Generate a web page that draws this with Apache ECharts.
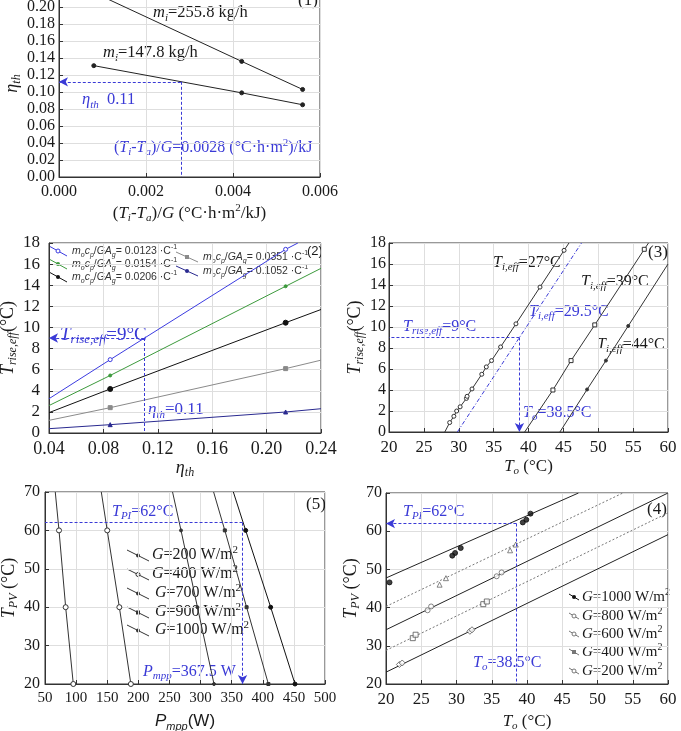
<!DOCTYPE html>
<html>
<head>
<meta charset="utf-8">
<script src="https://cdn.jsdelivr.net/npm/echarts@6/dist/echarts.min.js"></script>
<style>
html, body { margin: 0; padding: 0; background: #fff; }
#main { width: 681px; height: 731px; }
</style>
</head>
<body>
<div id="main"></div>
<script>
// panel (1): efficiency vs reduced temperature
var p1Heavy = [[0.0008, 0.217], [0.0042, 0.136], [0.0056, 0.103]];
var p1Light = [[0.0008, 0.131], [0.0042, 0.099], [0.0056, 0.085]];

// panel (2): temperature rise vs efficiency, one line per m_o c_p / G A_g
var p2Blue = [[0.04, 3.25], [0.085, 6.95], [0.214, 17.4], [0.223, 18]];
var p2Green = [[0.04, 2.6], [0.085, 5.45], [0.214, 13.9], [0.24, 15.6]];
var p2Black = [[0.04, 1.93], [0.085, 4.17], [0.214, 10.45], [0.24, 11.7]];
var p2Gray = [[0.04, 1.2], [0.085, 2.4], [0.214, 6.1], [0.24, 6.9]];
var p2Navy = [[0.04, 0.41], [0.085, 0.79], [0.214, 1.99], [0.24, 2.3]];
var p2Legend = ['0.0123', '0.0154', '0.0206', '0.0351', '0.1052'];

// panel (3): temperature rise vs outlet temperature
var p3T27 = [[28.0, 0], [28.7, 0.9], [29.3, 1.5], [29.7, 2.0], [30.2, 2.4], [31.1, 3.2], [31.2, 3.4],
  [31.9, 4.1], [33.3, 5.5], [33.95, 6.2], [34.7, 6.8], [36.0, 8.1], [38.2, 10.3], [41.65, 13.8],
  [45.1, 17.3], [45.8, 18]];
var p3T295 = [[29.8, 0], [47.6, 18]];
var p3T39 = [[39.45, 0], [43.5, 4.0], [46.1, 6.8], [49.5, 10.2], [56.6, 17.4], [57.2, 18]];
var p3T44 = [[44.5, 0], [48.4, 4.05], [51.1, 6.8], [54.3, 10.1], [60, 16.0]];

// panel (5): PV temperature vs max power
var p5G200 = [[66.5, 70], [72.5, 60], [83.2, 40], [95.5, 20]];
var p5G400 = [[140.5, 70], [150, 60], [169.5, 40], [188, 20]];
var p5G700 = [[255, 70], [268.6, 60], [295, 40], [321.6, 20]];
var p5G900 = [[321, 70], [339, 60], [374, 40], [409, 20]];
var p5G1000 = [[352.7, 70], [372.5, 60], [412.7, 40], [451.8, 20]];
var p5Legend = ['200', '400', '700', '900', '1000'];

// panel (4): PV temperature vs outlet temperature (fit lines + measured points)
var p4G1000Line = [[20, 47.75], [47.3, 70]];
var p4G1000Pts = [[20.5, 46.6], [29.4, 53.6], [29.8, 54.3], [30.6, 55.6], [39.4, 62.3], [39.9, 63.0], [40.5, 64.6]];
var p4G800Line = [[20, 40.3], [53.6, 70]];
var p4G800Pts = [[27.6, 46.0], [28.5, 47.7], [37.6, 55.0], [38.4, 56.5]];
var p4G600Line = [[20, 34.2], [60, 70]];
var p4G600Pts = [[25.9, 39.3], [26.4, 40.3], [35.7, 48.2], [36.4, 49.2]];
var p4G400Line = [[20, 28.8], [60, 64.8]];
var p4G400Pts = [[23.8, 32.0], [24.2, 32.9], [33.8, 40.9], [34.3, 41.6]];
var p4G200Line = [[20, 23.1], [60, 59.1]];
var p4G200Pts = [[21.9, 25.1], [22.3, 25.5], [31.9, 33.8], [32.2, 34.2]];
var p4Legend = ['1000', '800', '600', '400', '200'];

var myChart = echarts.init(document.getElementById('main'));

var SERIF = '"Liberation Serif", "Times New Roman", serif';
var SANS = '"Liberation Sans", Arial, sans-serif';
var BLUE = '#3a3ad6';
var INK = '#1a1a1a';

// rich text styles: n normal, i italic, s subscript, p superscript
function rich(color, size, fam) {
  var sm = Math.round(size * 0.66);
  function st(extra) {
    var o = { fill: color, color: color, fontSize: size, fontFamily: fam, lineHeight: size + 4 };
    for (var k in extra) o[k] = extra[k];
    return o;
  }
  return {
    n: st({}),
    i: st({ fontStyle: 'italic' }),
    s: st({ fontSize: sm, fontStyle: 'italic', lineHeight: sm, verticalAlign: 'bottom' }),
    p: st({ fontSize: sm, lineHeight: sm, verticalAlign: 'top' })
  };
}

function label(x, y, text, color, size, fam) {
  return {
    type: 'text', x: x, y: y, silent: true,
    style: {
      text: text, fill: color, fontSize: size, fontFamily: fam,
      align: 'left', verticalAlign: 'middle', rich: rich(color, size, fam)
    }
  };
}

function glyph(x1, y1, x2, y2, color, mark) {
  var els = [{ type: 'line', silent: true, shape: { x1: x1, y1: y1, x2: x2, y2: y2 }, style: { stroke: color, lineWidth: 1 } }];
  var cx = (x1 + x2) / 2, cy = (y1 + y2) / 2;
  if (mark === 'dot') els.push({ type: 'circle', silent: true, shape: { cx: cx, cy: cy, r: 2 }, style: { fill: color } });
  if (mark === 'ring') els.push({ type: 'circle', silent: true, shape: { cx: cx, cy: cy, r: 2 }, style: { fill: '#fff', stroke: color } });
  if (mark === 'sq') els.push({ type: 'rect', silent: true, shape: { x: cx - 2, y: cy - 2, width: 4, height: 4 }, style: { fill: color } });
  return els;
}

function axisName(size, fam) {
  return { color: INK, fontSize: size, fontFamily: fam, rich: rich(INK, size, fam) };
}

function xAx(grid, min, max, step, dec, fs, name, gap, nameFs, nameFam) {
  return {
    type: 'value', gridIndex: grid, min: min, max: max, interval: step,
    name: name, nameLocation: 'middle', nameGap: gap, nameTextStyle: axisName(nameFs, nameFam || SERIF),
    axisLine: { onZero: false, lineStyle: { color: '#333' } },
    axisTick: { inside: true, length: 4, lineStyle: { color: '#333' } },
    axisLabel: { margin: 7, color: INK, fontSize: fs, fontFamily: SERIF, showMinLabel: true, showMaxLabel: true,
      formatter: function (v) { return v.toFixed(dec); } },
    splitLine: { show: true, lineStyle: { color: '#dedede' } }
  };
}

function yAx(grid, min, max, step, dec, fs, name, gap, nameFs, margin) {
  return {
    type: 'value', gridIndex: grid, min: min, max: max, interval: step,
    name: name, nameLocation: 'middle', nameGap: gap, nameTextStyle: axisName(nameFs, SERIF),
    axisLine: { onZero: false, lineStyle: { color: '#333' } },
    axisTick: { inside: true, length: 4, lineStyle: { color: '#333' } },
    axisLabel: { margin: margin, color: INK, fontSize: fs, fontFamily: SERIF, showMinLabel: true, showMaxLabel: true,
      formatter: function (v) { return v.toFixed(dec); } },
    splitLine: { show: true, lineStyle: { color: '#dedede' } }
  };
}

// marks only on chosen points of a line
function marked(data, keep) {
  return data.map(function (p, i) {
    return keep.indexOf(i) >= 0 ? p : { value: p, symbol: 'none' };
  });
}

function line(grid, data, color, opt) {
  opt = opt || {};
  return {
    type: 'line', xAxisIndex: grid, yAxisIndex: grid, data: data,
    symbol: opt.symbol || 'circle', symbolSize: opt.size || 4, showAllSymbol: true,
    itemStyle: { color: opt.fill || color, borderColor: color, borderWidth: 1 },
    lineStyle: { color: color, width: 1, type: opt.dash || 'solid' },
    silent: true, z: 3
  };
}

function scatter(grid, data, color, symbol, size, fill) {
  return {
    type: 'scatter', xAxisIndex: grid, yAxisIndex: grid, data: data,
    symbol: symbol, symbolSize: size, silent: true, z: 4,
    itemStyle: { color: fill || color, borderColor: color, borderWidth: 1 }
  };
}

// blue guide lines with optional arrow at the far end
function guide(grid, segs) {
  return {
    type: 'line', xAxisIndex: grid, yAxisIndex: grid, data: [], silent: true,
    markLine: {
      silent: true, animation: false, symbolSize: [7, 9],
      label: { show: false },
      lineStyle: { color: BLUE, width: 1, type: [3, 2] },
      data: segs.map(function (s) {
        return [{ coord: s[0], symbol: 'none' }, { coord: s[1], symbol: s[2] ? 'arrow' : 'none' }];
      })
    }
  };
}

var p2Colors = ['#3b3be0', '#3c9a3c', '#111111', '#8a8a8a', '#2a2a90'];
var p2Marks = ['ring', 'dot', 'dot', 'sq', 'dot'];

var series = [
  line(0, marked(p1Heavy, [1, 2]), '#222'),
  line(0, marked(p1Light, [0, 1, 2]), '#222'),
  guide(0, [[[0.0028, 0.112], [0, 0.112], true], [[0.0028, 0.112], [0.0028, 0], false]]),

  line(1, marked(p2Blue, [1, 2]), p2Colors[0], { fill: '#fff' }),
  line(1, marked(p2Green, [1, 2]), p2Colors[1], { size: 3 }),
  line(1, marked(p2Black, [1, 2]), p2Colors[2], { size: 5 }),
  line(1, marked(p2Gray, [1, 2]), p2Colors[3], { symbol: 'rect' }),
  line(1, marked(p2Navy, [1, 2]), p2Colors[4], { symbol: 'triangle' }),
  guide(1, [[[0.11, 9], [0.04, 9], true], [[0.11, 9], [0.11, 0], false]]),

  line(2, marked(p3T27, [1, 2, 3, 4, 5, 6, 7, 8, 9, 10, 11, 12, 13, 14]), '#333', { fill: '#fff', size: 4 }),
  line(2, p3T295, BLUE, { dash: [4, 2, 1, 2], symbol: 'none' }),
  line(2, marked(p3T39, [1, 2, 3, 4]), '#333', { fill: '#fff', symbol: 'rect', size: 4 }),
  line(2, marked(p3T44, [1, 2, 3]), '#333', { size: 3 }),
  guide(2, [[[38.7, 9], [20, 9], false], [[38.7, 9], [38.7, 0], true]]),

  line(3, marked(p5G200, [1, 2, 3]), '#333', { fill: '#fff', size: 5 }),
  line(3, marked(p5G400, [1, 2, 3]), '#333', { fill: '#fff', size: 5 }),
  line(3, marked(p5G700, [1, 2, 3]), '#333', { size: 3 }),
  line(3, marked(p5G900, [1, 2, 3]), '#333', { size: 3, symbol: 'rect' }),
  line(3, marked(p5G1000, [1, 2, 3]), '#111', { size: 4 }),
  guide(3, [[[367.5, 62], [50, 62], false], [[367.5, 62], [367.5, 20], true]]),

  line(4, p4G1000Line, '#222', { symbol: 'none' }),
  line(4, p4G800Line, '#777', { symbol: 'none', dash: [2, 2] }),
  line(4, p4G600Line, '#222', { symbol: 'none' }),
  line(4, p4G400Line, '#777', { symbol: 'none', dash: [2, 2] }),
  line(4, p4G200Line, '#222', { symbol: 'none' }),
  scatter(4, p4G1000Pts, '#111', 'circle', 5),
  scatter(4, p4G800Pts, '#666', 'triangle', 5, '#fff'),
  scatter(4, p4G600Pts, '#666', 'circle', 5, '#fff'),
  scatter(4, p4G400Pts, '#555', 'rect', 5, '#fff'),
  scatter(4, p4G200Pts, '#555', 'diamond', 6, '#fff'),
  guide(4, [[[38.5, 62], [20, 62], true], [[38.5, 62], [38.5, 20], false]])
];

var graphics = [
  label(153, 13, '{i|m}{s|i}{n|=255.8 kg/h}', INK, 16.5, SERIF),
  label(103, 53, '{i|m}{s|i}{n|=147.8 kg/h}', INK, 16.5, SERIF),
  label(82, 100, '{i|η}{s|th}{n|  0.11}', BLUE, 16.5, SERIF),
  label(114, 148, '{n|(}{i|T}{s|i}{n|-}{i|T}{s|a}{n|)/}{i|G}{n|=0.0028 (°C·h·m}{p|2}{n|)/kJ}', BLUE, 16, SERIF),
  label(298, 1, '{n|(1)}', INK, 17, SERIF),

  label(60, 335, '{i|T}{s|rise,eff}{n|=9°C}', BLUE, 19, SERIF),
  label(148, 410, '{i|η}{s|th}{n|=0.11}', BLUE, 17, SERIF),
  label(307, 251, '{n|(2)}', INK, 13, SANS),

  label(493, 263, '{i|T}{s|i,eff}{n|=27°C}', INK, 16, SERIF),
  label(581, 282, '{i|T}{s|i,eff}{n|=39°C}', INK, 16, SERIF),
  label(529, 312, '{i|T}{s|i,eff}{n|=29.5°C}', BLUE, 16, SERIF),
  label(403, 327, '{i|T}{s|rise,eff}{n|=9°C}', BLUE, 16, SERIF),
  label(597, 345, '{i|T}{s|i,eff}{n|=44°C}', INK, 16, SERIF),
  label(523, 413, '{i|T}{s|o}{n|=38.5°C}', BLUE, 16, SERIF),
  label(648, 253, '{n|(3)}', INK, 17, SERIF),

  label(112, 512, '{i|T}{s|PI}{n|=62°C}', BLUE, 16, SERIF),
  label(143, 672, '{i|P}{s|mpp}{n|=367.5 W}', BLUE, 16, SERIF),
  label(306, 505, '{n|(5)}', INK, 17, SERIF),

  label(403, 512, '{i|T}{s|PI}{n|=62°C}', BLUE, 16, SERIF),
  label(473, 663, '{i|T}{s|o}{n|=38.5°C}', BLUE, 16, SERIF),
  label(647, 510, '{n|(4)}', INK, 17, SERIF)
];

// panel (2) legend, two columns
var p2Pos = [[49, 246, 67, 256, 72, 251], [49, 259, 67, 269, 72, 264], [49, 272, 67, 282, 72, 277],
  [176, 252, 198, 262, 203, 257], [176, 266, 198, 276, 203, 271]];
p2Legend.forEach(function (v, k) {
  var q = p2Pos[k];
  graphics = graphics.concat(glyph(q[0], q[1], q[2], q[3], p2Colors[k], p2Marks[k]));
  graphics.push(label(q[4], q[5], '{i|m}{s|o}{i|c}{s|p}{n|/}{i|GA}{s|g}{n|= ' + v + ' ·C}{p|-1}', '#333', 10.5, SANS));
});

// panel (5) legend
var p5Marks = ['dot', 'ring', 'dot', 'sq', 'dot'];
var p5Y = [555, 574, 593, 612, 630];
p5Legend.forEach(function (v, k) {
  graphics = graphics.concat(glyph(127, p5Y[k] - 5, 149, p5Y[k] + 6, '#333', p5Marks[k]));
  graphics.push(label(k < 2 ? 152 : 155, p5Y[k], '{i|G}{n|=' + v + ' W/m}{p|2}', INK, 16, SERIF));
});

// panel (4) legend
var p4Marks = ['dot', 'ring', 'ring', 'sq', 'ring'];
var p4Y = [597, 616, 634, 652, 671];
p4Legend.forEach(function (v, k) {
  graphics = graphics.concat(glyph(569, p4Y[k] - 3, 579, p4Y[k] + 3, k ? '#777' : '#111', p4Marks[k]));
  graphics.push(label(582, p4Y[k], '{i|G}{n|=' + v + ' W/m}{p|2}', INK, 15, SERIF));
});

function grid(left, top, width, height) {
  return {
    left: left, top: top, width: width, height: height,
    outerBoundsMode: 'none', containLabel: false,
    show: true, borderColor: '#333', borderWidth: 1, backgroundColor: 'transparent'
  };
}

option = {
  animation: false,
  backgroundColor: '#fff',
  grid: [
    grid(59, -10, 261, 187),
    grid(49, 243, 272, 190),
    grid(389, 243, 279, 189),
    grid(45, 492, 280, 192),
    grid(386, 493, 282, 191)
  ],
  xAxis: [
    xAx(0, 0, 0.006, 0.002, 3, 16, '{n|(}{i|T}{s|i}{n|-}{i|T}{s|a}{n|)/}{i|G}{n| (°C·h·m}{p|2}{n|/kJ)}', 26, 17),
    xAx(1, 0.04, 0.24, 0.04, 2, 18, '{i|η}{s|th}', 24, 18),
    xAx(2, 20, 60, 5, 0, 17, '{i|T}{s|o}{n| (°C)}', 24, 17),
    xAx(3, 50, 500, 50, 0, 15, '{i|P}{s|mpp}{n|(W)}', 27, 17, SANS),
    xAx(4, 20, 60, 5, 0, 17, '{i|T}{s|o}{n| (°C)}', 27, 17)
  ],
  yAxis: [
    yAx(0, 0, 0.22, 0.02, 2, 16, '{i|η}{s|th}', 34, 18, 4),
    yAx(1, 0, 18, 2, 0, 17, '{i|T}{s|rise,eff}{n|(°C)}', 24, 18, 9),
    yAx(2, 0, 18, 2, 0, 16, '{i|T}{s|rise,eff}{n|(°C)}', 22, 18, 3),
    yAx(3, 20, 70, 10, 0, 16, '{i|T}{s|PV}{n| (°C)}', 22, 18, 5),
    yAx(4, 20, 70, 10, 0, 16, '{i|T}{s|PV}{n| (°C)}', 24, 18, 4)
  ],
  series: series,
  graphic: graphics
};

myChart.setOption(option);
</script>
</body>
</html>
